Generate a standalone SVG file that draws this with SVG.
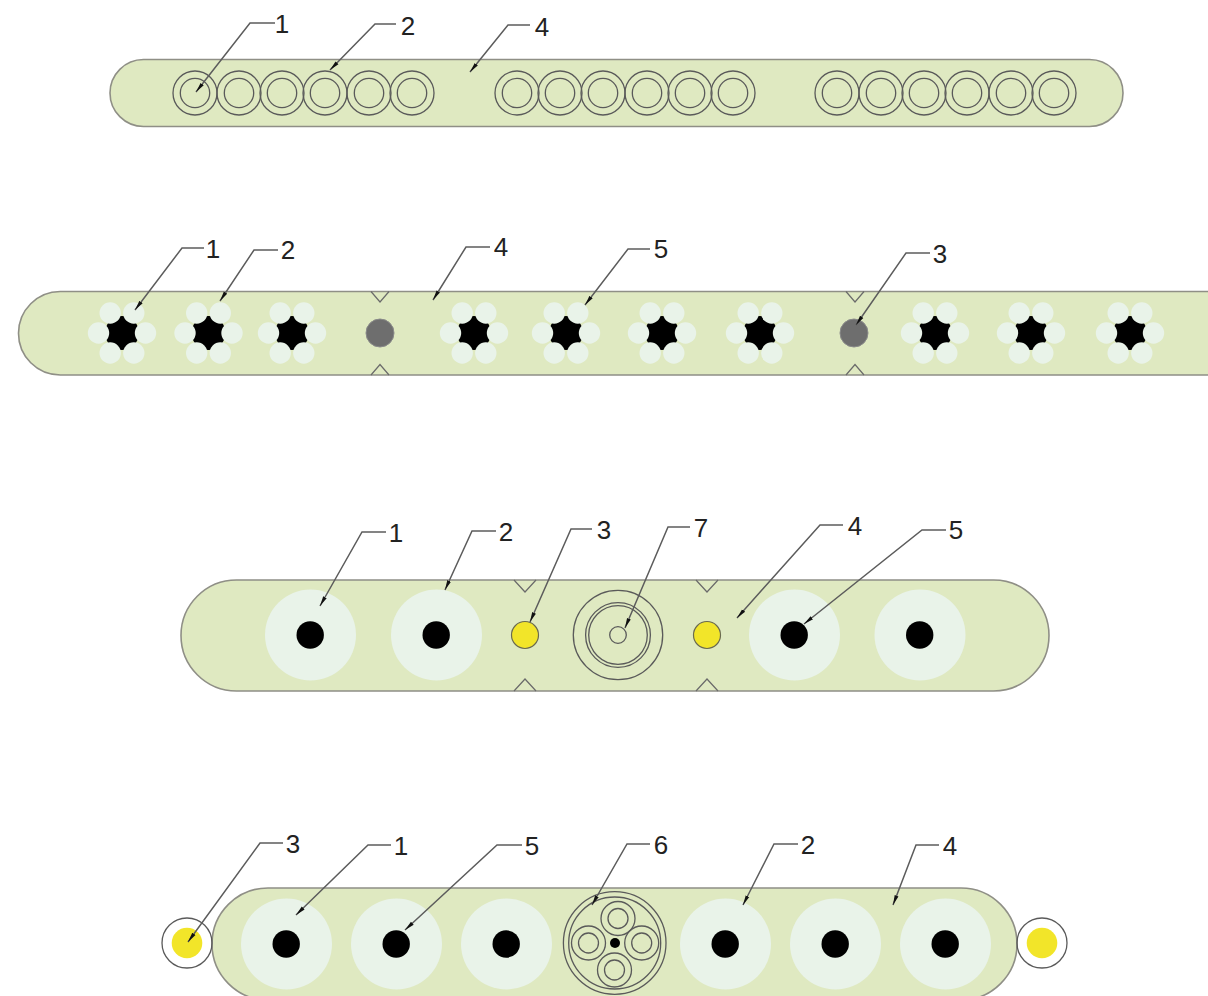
<svg xmlns="http://www.w3.org/2000/svg" xmlns:xlink="http://www.w3.org/1999/xlink" width="1208" height="996" viewBox="0 0 1208 996">
<style>
.sheath{fill:#dfe9c1;stroke:#8f8f86;stroke-width:1.6}
.ring{fill:none;stroke:#5a5a5a;stroke-width:1.3}
.notchl{fill:none;stroke:#6a6a6a;stroke-width:1.2}
.disc{fill:#e9f3e9}
.core{fill:#000}
.grey{fill:#6e6e6e;stroke:#8a8a8a;stroke-width:1}
.yellow{fill:#f2e529;stroke:#6a6a50;stroke-width:1.2}
.bare{fill:#f2e529}
.petal{fill:#e9f3e9}
.lead{fill:none;stroke:#5c5c5c;stroke-width:1.5;marker-end:url(#dart)}
text{font-family:"Liberation Sans",Arial,sans-serif;font-size:26px;fill:#222;text-anchor:middle}
</style>
<defs>
<marker id="dart" markerUnits="userSpaceOnUse" markerWidth="12" markerHeight="8" refX="10" refY="4" orient="auto"><path d="M0 2L10 4L0 6Z" fill="#111"/></marker>
<g id="pair"><circle class="ring" r="22"/><circle class="ring" r="14.700"/></g>
<g id="strand">
<circle class="core" r="17"/>
<circle class="petal" cx="23.500" r="10.700"/><circle class="petal" cx="11.800" cy="20" r="10.700"/><circle class="petal" cx="-11.800" cy="20" r="10.700"/>
<circle class="petal" cx="-23.500" r="10.700"/><circle class="petal" cx="-11.800" cy="-20" r="10.700"/><circle class="petal" cx="11.800" cy="-20" r="10.700"/>
</g>
<g id="wire"><circle class="disc" r="45.500"/><circle class="core" cx="-0.300" r="13.700"/></g>
<g id="sub"><circle class="ring" r="17"/><circle class="ring" r="10"/></g>
</defs>

<g id="cable1">
<rect class="sheath" x="110" y="59.500" width="1013" height="67" rx="33.500"/>
<use xlink:href="#pair" x="195" y="93"/><use xlink:href="#pair" x="239" y="93"/><use xlink:href="#pair" x="282" y="93"/><use xlink:href="#pair" x="325" y="93"/><use xlink:href="#pair" x="369" y="93"/><use xlink:href="#pair" x="412" y="93"/>
<use xlink:href="#pair" x="517" y="93"/><use xlink:href="#pair" x="560" y="93"/><use xlink:href="#pair" x="603" y="93"/><use xlink:href="#pair" x="647" y="93"/><use xlink:href="#pair" x="690" y="93"/><use xlink:href="#pair" x="733" y="93"/>
<use xlink:href="#pair" x="837" y="93"/><use xlink:href="#pair" x="881" y="93"/><use xlink:href="#pair" x="924" y="93"/><use xlink:href="#pair" x="967" y="93"/><use xlink:href="#pair" x="1011" y="93"/><use xlink:href="#pair" x="1054" y="93"/>
</g>

<g id="cable2">
<rect class="sheath" x="18.500" y="291.500" width="1230" height="83.500" rx="41.750"/>
<path class="notchl" d="M371 291.500L380 302L389 291.500M371 375L380 364.500L389 375M846 291.500L855 302L864 291.500M846 375L855 364.500L864 375"/>
<use xlink:href="#strand" x="122" y="333"/><use xlink:href="#strand" x="208.500" y="333"/><use xlink:href="#strand" x="292" y="333"/>
<circle class="grey" cx="380" cy="333" r="14"/>
<use xlink:href="#strand" x="474" y="333"/><use xlink:href="#strand" x="566" y="333"/><use xlink:href="#strand" x="662" y="333"/><use xlink:href="#strand" x="760" y="333"/>
<circle class="grey" cx="854" cy="333" r="14"/>
<use xlink:href="#strand" x="935" y="333"/><use xlink:href="#strand" x="1031" y="333"/><use xlink:href="#strand" x="1130" y="333"/>
</g>

<g id="cable3">
<rect class="sheath" x="181" y="580" width="868" height="111" rx="55.500"/>
<path class="notchl" d="M514 580L525 592L536 580M514 691L525 679L536 691M696 580L707 592L718 580M696 691L707 679L718 691"/>
<use xlink:href="#wire" x="310.500" y="635"/><use xlink:href="#wire" x="436.500" y="635"/><use xlink:href="#wire" x="794.500" y="635"/><use xlink:href="#wire" x="920" y="635"/>
<circle class="yellow" cx="525" cy="635" r="13.500"/><circle class="yellow" cx="707" cy="635" r="13.500"/>
<circle class="ring" cx="618" cy="635" r="44.700"/><circle class="ring" cx="618" cy="635" r="32.400"/><circle class="ring" cx="618" cy="635" r="29.300"/><circle class="ring" cx="618" cy="635" r="8.300"/>
</g>

<g id="cable4">
<rect class="sheath" x="212" y="888" width="805" height="112" rx="56"/>
<use xlink:href="#wire" x="286.500" y="944"/><use xlink:href="#wire" x="396.500" y="944"/><use xlink:href="#wire" x="506.500" y="944"/><use xlink:href="#wire" x="725.500" y="944"/><use xlink:href="#wire" x="835.500" y="944"/><use xlink:href="#wire" x="945.500" y="944"/>
<circle class="ring" cx="614.700" cy="943" r="51.300"/><circle class="ring" cx="614.700" cy="943" r="46"/>
<use xlink:href="#sub" x="618" y="918.500"/><use xlink:href="#sub" x="588.500" y="943"/><use xlink:href="#sub" x="641.700" y="943"/><use xlink:href="#sub" x="614.500" y="970"/>
<circle class="core" cx="615" cy="943" r="5"/>
</g>
<g id="side-left"><circle class="ring" cx="187" cy="943" r="25"/><circle class="bare" cx="187" cy="943" r="15.300"/></g>
<g id="side-right"><circle class="ring" cx="1042" cy="943" r="25"/><circle class="bare" cx="1042" cy="943" r="15.300"/></g>

<g id="connectors">
<path class="lead" d="M275 23H250L196 92"/><path class="lead" d="M396 24H375L330 70"/><path class="lead" d="M530 25H508L470 72"/>
<path class="lead" d="M204 248H182L135 310"/><path class="lead" d="M278 250H254L220 301"/><path class="lead" d="M490 247H466L433 300"/><path class="lead" d="M650 249H628L585 305"/><path class="lead" d="M930 253H906L856 325"/>
<path class="lead" d="M386 532H362L320 606"/><path class="lead" d="M496 531H472L445 590"/><path class="lead" d="M592 529H571L530 622"/><path class="lead" d="M690 527H668L625 628"/><path class="lead" d="M843 525H820L737 618"/><path class="lead" d="M946 530H922L804 624"/>
<path class="lead" d="M283 843H260L188 942"/><path class="lead" d="M391 845H368L296 915"/><path class="lead" d="M522 845H497L405 930"/><path class="lead" d="M650 844H627L592 905"/><path class="lead" d="M798 844H774L743 905"/><path class="lead" d="M939 845H916L893 905"/>
</g>

<g id="labels">
<text x="282" y="33">1</text><text x="408" y="35">2</text><text x="542" y="36">4</text>
<text x="213" y="258">1</text><text x="288" y="259">2</text><text x="501" y="256">4</text><text x="661" y="258">5</text><text x="940" y="263">3</text>
<text x="396" y="542">1</text><text x="506" y="541">2</text><text x="604" y="539">3</text><text x="701" y="537">7</text><text x="855" y="535">4</text><text x="956" y="539">5</text>
<text x="293" y="853">3</text><text x="401" y="855">1</text><text x="532" y="855">5</text><text x="661" y="854">6</text><text x="808" y="854">2</text><text x="950" y="855">4</text>
</g>
</svg>
